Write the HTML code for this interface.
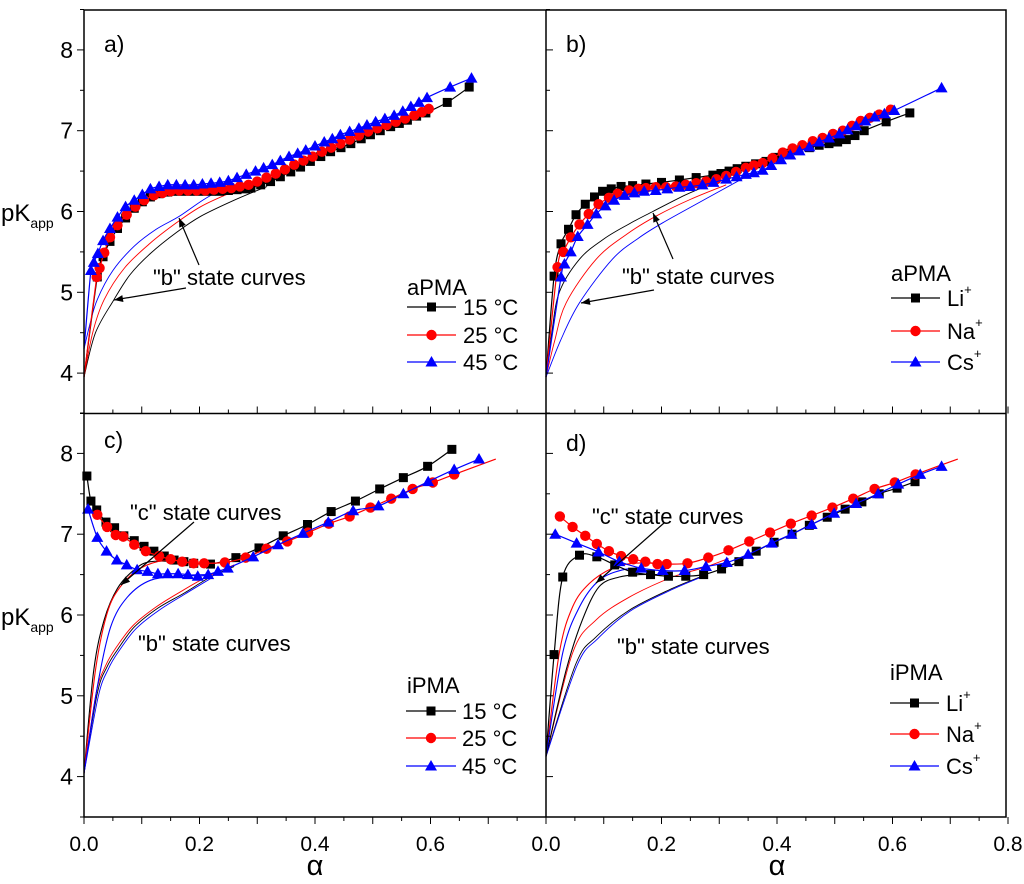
<!DOCTYPE html>
<html><head><meta charset="utf-8"><style>
html,body{margin:0;padding:0;background:#fff;}
svg{display:block;font-family:"Liberation Sans",Arial,sans-serif;}
</style></head><body>
<svg id="chart" width="1024" height="884" viewBox="0 0 1024 884" xmlns="http://www.w3.org/2000/svg">
<g id="marks"></g>
<g id="frame"></g>
<g id="labels"></g>
</svg>
<script>
// ---------- DATA ----------
const xTickLabels = ["0.0","0.2","0.4","0.6"];
const xTickLabelsLast = ["0.0","0.2","0.4","0.6","0.8"];
const yTickLabels = ["4","5","6","7","8"];

// Panel a (aPMA temperature)
const a15A=[0,0.023,0.033,0.045,0.058,0.072,0.087,0.101,0.115,0.13,0.145,0.16,0.175,0.19,0.205,0.22,0.235,0.25,0.265,0.28,0.289,0.306,0.323,0.34,0.358,0.375,0.392,0.41,0.427,0.445,0.462,0.48,0.496,0.513,0.531,0.546,0.56,0.576,0.592,0.629,0.667];
const a15P=[3.95,5.19,5.44,5.63,5.79,5.92,6.04,6.12,6.18,6.22,6.24,6.25,6.25,6.25,6.25,6.25,6.25,6.26,6.27,6.28,6.29,6.33,6.37,6.43,6.49,6.55,6.62,6.68,6.74,6.79,6.84,6.9,6.95,7.0,7.05,7.09,7.13,7.18,7.22,7.35,7.54];
const a25A=[0,0.022,0.027,0.035,0.045,0.058,0.074,0.089,0.104,0.121,0.136,0.15,0.165,0.18,0.195,0.21,0.225,0.24,0.255,0.27,0.285,0.3,0.316,0.332,0.348,0.364,0.38,0.396,0.412,0.428,0.444,0.46,0.476,0.492,0.508,0.524,0.54,0.556,0.572,0.585,0.597];
const a25P=[3.95,5.19,5.3,5.49,5.68,5.83,5.96,6.06,6.14,6.2,6.23,6.25,6.26,6.26,6.26,6.26,6.27,6.28,6.29,6.31,6.33,6.37,6.42,6.47,6.52,6.58,6.63,6.68,6.74,6.79,6.84,6.89,6.94,6.99,7.03,7.07,7.11,7.15,7.19,7.23,7.27];
const a45A=[0,0.012,0.017,0.024,0.033,0.045,0.058,0.072,0.087,0.101,0.115,0.13,0.145,0.16,0.175,0.19,0.205,0.22,0.235,0.25,0.265,0.281,0.297,0.311,0.326,0.34,0.355,0.37,0.384,0.4,0.416,0.43,0.444,0.46,0.476,0.49,0.505,0.521,0.537,0.552,0.566,0.58,0.594,0.634,0.671];
const a45P=[4.3,5.27,5.37,5.48,5.64,5.79,5.93,6.06,6.14,6.21,6.28,6.31,6.33,6.33,6.33,6.33,6.34,6.35,6.36,6.38,6.42,6.46,6.5,6.54,6.58,6.63,6.68,6.72,6.76,6.81,6.86,6.9,6.95,6.99,7.03,7.07,7.11,7.15,7.19,7.24,7.3,7.35,7.41,7.54,7.65];
const aFitBlackA=[0,0.02,0.052,0.08,0.115,0.16,0.202,0.26,0.317];
const aFitBlackP=[3.95,4.5,4.91,5.22,5.48,5.74,5.94,6.14,6.31];
const aFitRedA=[0,0.015,0.035,0.07,0.115,0.16,0.202,0.25,0.289];
const aFitRedP=[3.95,4.5,4.91,5.3,5.61,5.86,6.06,6.22,6.33];
const aFitBlueA=[0,0.01,0.023,0.05,0.087,0.125,0.165,0.21,0.26];
const aFitBlueP=[4.3,4.6,4.91,5.27,5.57,5.78,5.94,6.16,6.35];

// Panel b (aPMA counterions)
const bLiA=[0,0.014,0.026,0.039,0.052,0.068,0.084,0.098,0.113,0.13,0.15,0.173,0.2,0.231,0.26,0.289,0.303,0.317,0.331,0.346,0.363,0.381,0.398,0.416,0.436,0.456,0.473,0.49,0.505,0.52,0.535,0.551,0.589,0.63];
const bLiP=[3.95,5.2,5.6,5.78,5.96,6.09,6.18,6.25,6.28,6.31,6.32,6.34,6.36,6.39,6.42,6.45,6.47,6.5,6.53,6.56,6.59,6.62,6.67,6.72,6.76,6.79,6.82,6.84,6.86,6.89,6.94,7.0,7.11,7.22];
const bNaA=[0,0.02,0.03,0.043,0.058,0.074,0.091,0.109,0.124,0.144,0.16,0.173,0.19,0.208,0.225,0.242,0.26,0.277,0.295,0.312,0.329,0.346,0.36,0.375,0.392,0.41,0.427,0.444,0.462,0.479,0.497,0.514,0.53,0.545,0.561,0.577,0.597];
const bNaP=[3.95,5.31,5.5,5.68,5.84,5.97,6.09,6.17,6.22,6.26,6.28,6.29,6.3,6.3,6.31,6.33,6.35,6.37,6.4,6.44,6.49,6.54,6.57,6.6,6.66,6.73,6.78,6.82,6.87,6.91,6.96,7.0,7.06,7.12,7.16,7.2,7.26];
const bCsA=[0,0.026,0.032,0.043,0.055,0.072,0.087,0.103,0.118,0.136,0.153,0.17,0.19,0.21,0.231,0.25,0.271,0.29,0.312,0.33,0.346,0.36,0.375,0.39,0.407,0.423,0.439,0.456,0.473,0.49,0.508,0.522,0.537,0.553,0.569,0.586,0.603,0.685];
const bCsP=[3.95,5.19,5.35,5.5,5.69,5.84,5.97,6.07,6.14,6.2,6.23,6.25,6.26,6.28,6.3,6.31,6.33,6.36,6.4,6.43,6.46,6.48,6.51,6.57,6.64,6.7,6.75,6.8,6.86,6.91,6.96,7.01,7.06,7.12,7.17,7.21,7.25,7.53];
const bFitBlackA=[0,0.01,0.023,0.058,0.1,0.145,0.185,0.24,0.289];
const bFitBlackP=[3.95,4.5,5.0,5.41,5.66,5.85,6.0,6.2,6.35];
const bFitRedA=[0,0.015,0.035,0.087,0.14,0.19,0.25,0.312];
const bFitRedP=[3.95,4.4,4.87,5.41,5.72,5.94,6.15,6.33];
const bFitBlueA=[0,0.025,0.058,0.115,0.16,0.202,0.27,0.346];
const bFitBlueP=[3.95,4.4,4.87,5.41,5.67,5.86,6.13,6.43];

// Panel c (iPMA temperature)
const c15A=[0.005,0.012,0.022,0.038,0.053,0.069,0.087,0.104,0.121,0.139,0.156,0.173,0.19,0.219,0.263,0.303,0.345,0.387,0.428,0.47,0.512,0.553,0.595,0.637];
const c15P=[7.72,7.41,7.3,7.15,7.08,6.98,6.92,6.85,6.79,6.73,6.68,6.66,6.64,6.63,6.71,6.83,6.98,7.12,7.28,7.41,7.56,7.7,7.84,8.05];
const c25A=[0.023,0.04,0.055,0.068,0.087,0.107,0.13,0.15,0.17,0.19,0.208,0.244,0.28,0.316,0.352,0.388,0.424,0.46,0.496,0.532,0.569,0.604,0.641,0.713];
const c25P=[7.24,7.09,6.99,6.97,6.87,6.79,6.73,6.69,6.66,6.64,6.64,6.65,6.71,6.82,6.91,7.02,7.13,7.22,7.33,7.44,7.56,7.64,7.74,7.93];
const c45A=[0.007,0.023,0.039,0.057,0.074,0.092,0.11,0.128,0.145,0.163,0.18,0.197,0.215,0.232,0.249,0.293,0.336,0.379,0.423,0.466,0.51,0.553,0.596,0.641,0.684];
const c45P=[7.31,6.96,6.79,6.68,6.62,6.56,6.54,6.51,6.51,6.51,6.5,6.48,6.5,6.54,6.58,6.72,6.87,7.01,7.15,7.29,7.35,7.5,7.65,7.8,7.93];
const cFitC15A=[0,0.017,0.035,0.058,0.087,0.115,0.173];
const cFitC15P=[4.04,5.32,5.94,6.33,6.56,6.66,6.66];
const cFitC25A=[0,0.02,0.04,0.063,0.098,0.144,0.19];
const cFitC25P=[4.04,5.32,6.02,6.35,6.58,6.68,6.66];
const cFitC45A=[0,0.023,0.046,0.075,0.115,0.173,0.215];
const cFitC45P=[4.04,5.11,5.85,6.22,6.43,6.49,6.5];
const cFitB15A=[0,0.023,0.04,0.058,0.087,0.127,0.173,0.219,0.26];
const cFitB15P=[4.04,5.03,5.36,5.57,5.85,6.08,6.27,6.47,6.6];
const cFitB25A=[0,0.021,0.038,0.056,0.085,0.125,0.17,0.215,0.26];
const cFitB25P=[4.04,5.03,5.38,5.6,5.87,6.1,6.3,6.48,6.62];
const cFitB45A=[0,0.025,0.042,0.06,0.09,0.13,0.175,0.219];
const cFitB45P=[4.04,5.0,5.33,5.55,5.83,6.06,6.26,6.45];

// Panel d (iPMA counterions)
const dLiA=[0,0.014,0.029,0.058,0.088,0.119,0.15,0.181,0.212,0.242,0.273,0.304,0.334,0.364,0.395,0.426,0.456,0.487,0.518,0.547,0.577,0.608,0.639];
const dLiP=[4.25,5.51,6.47,6.74,6.72,6.62,6.53,6.5,6.48,6.48,6.5,6.57,6.66,6.79,6.9,7.0,7.11,7.21,7.31,7.4,7.5,7.57,7.65];
const dNaA=[0.024,0.046,0.068,0.088,0.109,0.13,0.151,0.172,0.193,0.209,0.245,0.281,0.316,0.352,0.388,0.424,0.46,0.496,0.532,0.569,0.604,0.64,0.713];
const dNaP=[7.22,7.09,6.98,6.88,6.79,6.73,6.69,6.66,6.63,6.63,6.64,6.71,6.8,6.91,7.02,7.13,7.23,7.33,7.44,7.56,7.64,7.74,7.93];
const dCsA=[0.016,0.053,0.091,0.127,0.165,0.202,0.24,0.277,0.313,0.35,0.391,0.425,0.46,0.499,0.537,0.575,0.61,0.648,0.685];
const dCsP=[7.0,6.89,6.78,6.66,6.58,6.55,6.55,6.6,6.65,6.75,6.89,7.0,7.12,7.26,7.38,7.5,7.62,7.74,7.84];
const dFitCLiA=[0,0.035,0.063,0.092,0.127,0.162,0.2];
const dFitCLiP=[4.25,5.32,5.94,6.35,6.47,6.5,6.5];
const dFitCNaA=[0,0.023,0.046,0.075,0.115,0.151,0.19];
const dFitCNaP=[4.25,5.53,6.1,6.39,6.58,6.64,6.64];
const dFitCCsA=[0,0.029,0.058,0.092,0.133,0.17];
const dFitCCsP=[4.25,5.53,6.1,6.43,6.56,6.58];
const dFitBNaA=[0,0.046,0.087,0.144,0.219,0.271,0.316];
const dFitBNaP=[4.25,5.53,5.94,6.22,6.47,6.58,6.7];
const dFitBLiA=[0,0.052,0.087,0.144,0.219,0.277];
const dFitBLiP=[4.25,5.4,5.73,6.06,6.33,6.5];
const dFitBCsA=[0,0.054,0.09,0.146,0.22,0.28];
const dFitBCsP=[4.25,5.38,5.71,6.05,6.32,6.5];

// ---------- AXES ----------
const NS="http://www.w3.org/2000/svg";
const PX_PER_A=577.5, PX_PER_PK=80.8;
const panels={
  a:{x0:84,yb:413.5}, b:{x0:546,yb:413.5},
  c:{x0:84,yb:817}, d:{x0:546,yb:817}
};
function X(p,a){return panels[p].x0+a*PX_PER_A;}
function Y(p,k){return panels[p].yb-(k-3.5)*PX_PER_PK;}
const COL={k:"#000",r:"#f00",b:"#00f"};
const marks=document.getElementById('marks');
function el(tag,attrs,parent){const e=document.createElementNS(NS,tag);for(const k in attrs)e.setAttribute(k,attrs[k]);(parent||marks).appendChild(e);return e;}

function smoothPath(pts){
  if(pts.length<2)return "";
  let d="M"+pts[0][0].toFixed(1)+","+pts[0][1].toFixed(1);
  for(let i=0;i<pts.length-1;i++){
    const p0=pts[i-1]||pts[i],p1=pts[i],p2=pts[i+1],p3=pts[i+2]||p2;
    const c1x=p1[0]+(p2[0]-p0[0])/6,c1y=p1[1]+(p2[1]-p0[1])/6;
    const c2x=p2[0]-(p3[0]-p1[0])/6,c2y=p2[1]-(p3[1]-p1[1])/6;
    d+=" C"+c1x.toFixed(1)+","+c1y.toFixed(1)+" "+c2x.toFixed(1)+","+c2y.toFixed(1)+" "+p2[0].toFixed(1)+","+p2[1].toFixed(1);
  }
  return d;
}
function drawLine(p,A,P,color,name,w){
  const pts=A.map((a,i)=>[X(p,a),Y(p,P[i])]);
  const e=el('path',{d:smoothPath(pts),fill:"none",stroke:color,"stroke-width":w||1});
  
  
}
function marker(x,y,shape,color,parent){
  let e;
  if(shape==='s') e=el('rect',{x:x-4.5,y:y-4.5,width:9,height:9,fill:color},parent);
  else if(shape==='c') e=el('circle',{cx:x,cy:y,r:5.2,fill:color},parent);
  else e=el('polygon',{points:`${x},${y-6} ${x-6},${y+4.5} ${x+6},${y+4.5}`,fill:color},parent);
  return e;
}
function drawSeries(p,A,P,color,shape,name,skipFirst,skipLast){
  drawLine(p,A,P,color,name+'-line',1.2);
  const g=el('g',{});
  
  
  A.forEach((a,i)=>{
    if(skipFirst&&i===0)return;
    if(skipLast&&i===A.length-1)return;
    const m=marker(X(p,a),Y(p,P[i]),shape,color,g);
    
    
  });
}

// fits (thin lines)
drawLine('a',aFitBlackA,aFitBlackP,COL.k,'a-b-state-15c',0.9);
drawLine('a',aFitRedA,aFitRedP,COL.r,'a-b-state-25c',0.9);
drawLine('a',aFitBlueA,aFitBlueP,COL.b,'a-b-state-45c',0.9);
drawLine('b',bFitBlackA,bFitBlackP,COL.k,'b-b-state-li',0.9);
drawLine('b',bFitRedA,bFitRedP,COL.r,'b-b-state-na',0.9);
drawLine('b',bFitBlueA,bFitBlueP,COL.b,'b-b-state-cs',0.9);
drawLine('c',cFitB15A,cFitB15P,COL.k,'c-b-state-15c',0.9);
drawLine('c',cFitB25A,cFitB25P,COL.r,'c-b-state-25c',0.9);
drawLine('c',cFitB45A,cFitB45P,COL.b,'c-b-state-45c',0.9);
drawLine('c',cFitC15A,cFitC15P,COL.k,'c-c-state-15c',1.1);
drawLine('c',cFitC25A,cFitC25P,COL.r,'c-c-state-25c',1.1);
drawLine('c',cFitC45A,cFitC45P,COL.b,'c-c-state-45c',1.1);
drawLine('d',dFitBLiA,dFitBLiP,COL.k,'d-b-state-li',0.9);
drawLine('d',dFitBNaA,dFitBNaP,COL.r,'d-b-state-na',0.9);
drawLine('d',dFitBCsA,dFitBCsP,COL.b,'d-b-state-cs',0.9);
drawLine('d',dFitCLiA,dFitCLiP,COL.k,'d-c-state-li',1.1);
drawLine('d',dFitCNaA,dFitCNaP,COL.r,'d-c-state-na',1.1);
drawLine('d',dFitCCsA,dFitCCsP,COL.b,'d-c-state-cs',1.1);

// marker series
drawSeries('a',a15A,a15P,COL.k,'s','a-15c',true);
drawSeries('a',a25A,a25P,COL.r,'c','a-25c',true);
drawSeries('a',a45A,a45P,COL.b,'t','a-45c',true);
drawSeries('b',bLiA,bLiP,COL.k,'s','b-li',true);
drawSeries('b',bNaA,bNaP,COL.r,'c','b-na',true);
drawSeries('b',bCsA,bCsP,COL.b,'t','b-cs',true);
drawSeries('c',c15A,c15P,COL.k,'s','c-15c');
drawSeries('c',c25A,c25P,COL.r,'c','c-25c',false,true);
drawSeries('c',c45A,c45P,COL.b,'t','c-45c');
drawSeries('d',dLiA,dLiP,COL.k,'s','d-li',true);
drawSeries('d',dNaA,dNaP,COL.r,'c','d-na',false,true);
drawSeries('d',dCsA,dCsP,COL.b,'t','d-cs');

// ---------- FRAME & TICKS ----------
const frame=document.getElementById('frame');
el('rect',{x:84,y:10,width:922,height:807,fill:"none",stroke:"#000","stroke-width":1.5},frame);
el('line',{x1:546,y1:10,x2:546,y2:817,stroke:"#000","stroke-width":1.5},frame);
el('line',{x1:84,y1:413.5,x2:1006,y2:413.5,stroke:"#000","stroke-width":1.5},frame);
['a','b','c','d'].forEach(p=>{
  const outX=(p==='a'||p==='c');
  const outY=(p==='c'||p==='d');
  for(let k=3.5;k<=8.5;k+=0.5){
    const y=Y(p,k);const len=(k%1===0)?7:4;
    const x0=panels[p].x0;
    el('line',{x1:x0,y1:y,x2:outX?x0-len:x0+len,y2:y,stroke:"#000","stroke-width":1},frame);
  }
  for(let i=0;i<=16;i++){
    const a=i*0.05;const x=X(p,a);const len=(i%2===0)?7:4;
    const yb=panels[p].yb;
    el('line',{x1:x,y1:yb,x2:x,y2:outY?yb+len:yb-len,stroke:"#000","stroke-width":1},frame);
  }
});

// ---------- LABELS ----------
const labels=document.getElementById('labels');
function txt(x,y,s,size,name,anchor,parent){
  const t=el('text',{x:x,y:y,"font-size":size,"text-anchor":anchor||"start",fill:"#000"},parent||labels);
  t.textContent=s;
  
  
  return t;
}
// x tick labels
xTickLabels.forEach((s,i)=>txt(X('c',i*0.2),851,s,21,'x-tick-label','middle'));
xTickLabelsLast.forEach((s,i)=>txt(X('d',i*0.2),851,s,21,'x-tick-label','middle'));
// y tick labels
['a','c'].forEach(p=>yTickLabels.forEach((s,i)=>txt(73,Y(p,4+i)+8,s,23,'y-tick-label','end')));
// axis titles
txt(X('c',0.4),875,"α",29,'x-axis-title','middle');
txt(X('d',0.4),875,"α",29,'x-axis-title','middle');
[["a",212],["c",616]].forEach(([p,y])=>{
  const t=txt(1,y+9,"pK",24,'y-axis-title');
  const s=document.createElementNS(NS,'tspan');s.setAttribute('font-size',14);s.setAttribute('dy',7);s.textContent="app";t.appendChild(s);
});
// panel letters
txt(104,52,"a)",23,'panel-label-a');
txt(566,52,"b)",23,'panel-label-b');
txt(104,448,"c)",23,'panel-label-c');
txt(566,451,"d)",23,'panel-label-d');
// annotations
txt(153,285,'"b" state curves',22,'annotation-b-state');
txt(622,284,'"b" state curves',22,'annotation-b-state');
txt(130,520,'"c" state curves',22,'annotation-c-state');
txt(138,651,'"b" state curves',22,'annotation-b-state');
txt(592,524,'"c" state curves',22,'annotation-c-state');
txt(617,654,'"b" state curves',22,'annotation-b-state');
function arrow(x1,y1,x2,y2,name){
  const g=el('g',{},labels);
  
  
  el('line',{x1:x1,y1:y1,x2:x2,y2:y2,stroke:"#000","stroke-width":1.2},g);
  const ang=Math.atan2(y2-y1,x2-x1),L=9,W=3.5;
  const bx=x2-L*Math.cos(ang),by=y2-L*Math.sin(ang);
  const px=-Math.sin(ang)*W,py=Math.cos(ang)*W;
  el('polygon',{points:`${x2},${y2} ${bx+px},${by+py} ${bx-px},${by-py}`,fill:"#000"},g);
}
arrow(199,265,179,218,'arrow');
arrow(186,288,114,300,'arrow');
arrow(673,259,653,213,'arrow');
arrow(654,290,581,303,'arrow');
arrow(194,522,121,585,'arrow');
arrow(664,523,596,583,'arrow');
// legends
function legend(p,title,tx,ty,lx1,lx2,entries,textx,name){
  const g=el('g',{},labels);
  
  
  txt(tx,ty,title,22,'legend-title','start',g);
  entries.forEach(([label,color,shape,y,sup])=>{
    const e=el('g',{},g);
    
    
    el('line',{x1:lx1,y1:y,x2:lx2,y2:y,stroke:color,"stroke-width":1.2},e);
    marker((lx1+lx2)/2,y,shape,color,e);
    const t=txt(textx,y+8,label,22,'legend-label','start',e);
    if(sup){const s=document.createElementNS(NS,'tspan');s.setAttribute('font-size',13);s.setAttribute('dy',-12);s.textContent="+";t.appendChild(s);}
  });
}
legend('a','aPMA',407,295,407,456,[["15 °C",COL.k,'s',307],["25 °C",COL.r,'c',335],["45 °C",COL.b,'t',362]],463,'legend-a');
legend('b','aPMA',891,281,891,940,[["Li",COL.k,'s',298,1],["Na",COL.r,'c',331,1],["Cs",COL.b,'t',362,1]],947,'legend-b');
legend('c','iPMA',407,693,406,456,[["15 °C",COL.k,'s',711],["25 °C",COL.r,'c',738],["45 °C",COL.b,'t',766]],462,'legend-c');
legend('d','iPMA',890,680,890,939,[["Li",COL.k,'s',703,1],["Na",COL.r,'c',734,1],["Cs",COL.b,'t',766,1]],946,'legend-d');
</script>
</body></html>
